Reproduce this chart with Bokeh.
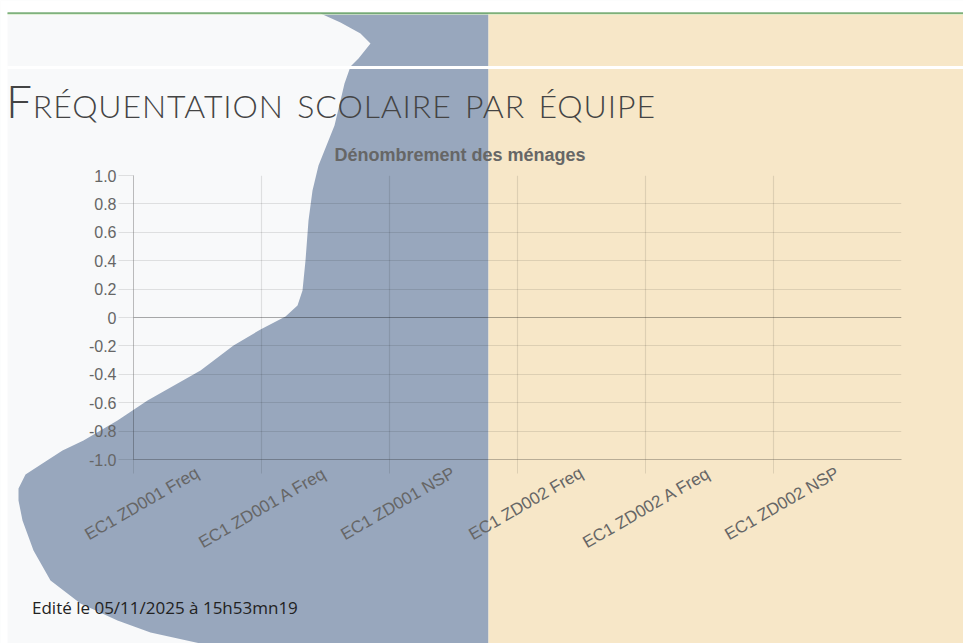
import math
from bokeh.plotting import figure
from bokeh.models import Range1d, FixedTicker, Span, Div
from bokeh.layouts import column
from bokeh.embed import file_html
from bokeh.resources import INLINE

# ---------------- data ----------------
page_title = "Fréquentation scolaire par équipe"
chart_title = "Dénombrement des ménages"
footer_text = "Edité le 05/11/2025 à 15h53mn19"
categories = ["EC1 ZD001 Freq", "EC1 ZD001 A Freq", "EC1 ZD001 NSP",
              "EC1 ZD002 Freq", "EC1 ZD002 A Freq", "EC1 ZD002 NSP"]
values = [0, 0, 0, 0, 0, 0]
y_ticks = [1.0, 0.8, 0.6, 0.4, 0.2, 0.0, -0.2, -0.4, -0.6, -0.8, -1.0]
y_tick_labels = ["1.0", "0.8", "0.6", "0.4", "0.2", "0",
                 "-0.2", "-0.4", "-0.6", "-0.8", "-1.0"]

W, H = 963, 643

# ---------------- decorative page background (pixel space) ----------------
bg = figure(width=W, height=H, x_range=Range1d(0, W), y_range=Range1d(H, 0),
            x_axis_type=None, y_axis_type=None, min_border=0,
            output_backend="svg", toolbar_location=None)
bg.frame_align = False
bg.grid.visible = False
bg.outline_line_color = None
bg.background_fill_color = "#f8f9fa"
bg.border_fill_color = "#f8f9fa"

blue_outline = [(320, 13), (488, 13), (488, 643), (200, 643), (150, 632),
                (117, 620), (80, 603), (50, 580), (33, 550), (22, 520),
                (18, 500), (18, 488), (25, 474), (45, 461), (62, 450),
                (83, 440), (117, 420), (147, 400), (200, 370), (233, 345),
                (260, 329), (285, 316), (297, 305), (302, 290), (305, 260),
                (308, 220), (312, 190), (318, 165), (326, 145), (334, 125),
                (340, 100), (344, 83), (350, 66), (358, 58), (370, 43),
                (360, 33), (340, 22)]
bg.patch([x for x, _ in blue_outline], [y for _, y in blue_outline],
         fill_color="#98a7bd", line_color=None)
bg.quad(left=[488], right=[W], top=[13], bottom=[H],
        fill_color="#f7e7c8", line_color=None)
bg.quad(left=[0], right=[W], top=[0], bottom=[12],
        fill_color="#ffffff", line_color=None)
bg.quad(left=[0], right=[7], top=[0], bottom=[H],
        fill_color="#ffffff", line_color=None)
bg.quad(left=[7], right=[W], top=[12], bottom=[13.2],
        fill_color="#3f8a3f", line_color=None)
bg.quad(left=[7], right=[W], top=[13.2], bottom=[14.5],
        fill_color="#d6ecc8", line_color=None, fill_alpha=0.7)
bg.quad(left=[7], right=[W], top=[65.5], bottom=[68.5],
        fill_color="#ffffff", line_color=None)

# ---------------- chart ----------------
p = figure(width=W, height=H,
           x_range=Range1d(0, len(categories)), y_range=Range1d(-1, 1),
           output_backend="svg", toolbar_location=None,
           min_border_left=133, min_border_right=62,
           min_border_top=175, min_border_bottom=184)
p.frame_align = False
p.background_fill_color = None
p.border_fill_color = None
p.outline_line_color = None
p.styles = {"position": "absolute", "left": "0px", "top": "0px"}

p.title.text = chart_title
p.title.align = "left"
p.title.offset = 201
p.title.standoff = 21
p.title.text_font = "Liberation Sans"
p.title.text_font_style = "bold"
p.title.text_font_size = "18px"
p.title.text_color = "#666666"

centers = [i + 0.5 for i in range(len(categories))]
p.vbar(x=centers, top=values, bottom=0, width=0.8,
       fill_color="#36a2eb", line_color=None)

p.xgrid.ticker = FixedTicker(ticks=list(range(len(categories))))
p.ygrid.ticker = FixedTicker(ticks=y_ticks)
for g in (p.xgrid, p.ygrid):
    g.grid_line_color = "black"
    g.grid_line_alpha = 0.1
    g.grid_line_width = 1.2
p.add_layout(Span(location=0, dimension="width", line_color="black",
                  line_alpha=0.25, line_width=1.2))

ya = p.yaxis[0]
ya.ticker = FixedTicker(ticks=y_ticks)
ya.major_label_overrides = dict(zip(y_ticks, y_tick_labels))
ya.major_tick_out = 15
ya.major_tick_in = 0
ya.major_tick_line_color = "black"
ya.major_tick_line_alpha = 0.1
ya.minor_tick_line_color = None
ya.axis_line_color = "black"
ya.axis_line_alpha = 0.25
ya.major_label_standoff = 2
ya.major_label_text_font = "Liberation Sans"
ya.major_label_text_font_size = "16px"
ya.major_label_text_color = "#666666"

xa = p.xaxis[0]
xa.ticker = FixedTicker(ticks=centers, minor_ticks=list(range(len(categories))))
xa.major_label_overrides = {c: lab for c, lab in zip(centers, categories)}
xa.major_label_orientation = math.pi / 6
xa.major_tick_out = 0
xa.major_tick_in = 0
xa.major_tick_line_color = None
xa.minor_tick_out = 14
xa.minor_tick_in = 0
xa.minor_tick_line_color = "black"
xa.minor_tick_line_alpha = 0.1
xa.axis_line_color = "black"
xa.axis_line_alpha = 0.25
xa.major_label_standoff = -2
xa.major_label_text_font = "Liberation Sans"
xa.major_label_text_font_size = "17px"
xa.major_label_text_color = "#666666"

# ---------------- page texts ----------------
title_div = Div(
    text=('<span style="font-family:Lato;font-weight:300;font-variant:small-caps;'
          'font-size:46px;line-height:53px;letter-spacing:0.9px;color:#444;'
          'white-space:nowrap">' + page_title + '</span>'),
    width=720, height=53, margin=0,
    styles={"position": "absolute", "left": "6px", "top": "74px",
            "z-index": "10"})

footer_div = Div(
    text=('<span style="font-family:\'Open Sans\';font-size:17px;line-height:20px;'
          'color:#222;white-space:nowrap">' + footer_text + '</span>'),
    width=340, height=20, margin=0,
    styles={"position": "absolute", "left": "32px", "top": "598px",
            "z-index": "10"})

layout = column(bg, p, title_div, footer_div)
open("out.html", "w").write(file_html(layout, INLINE))
